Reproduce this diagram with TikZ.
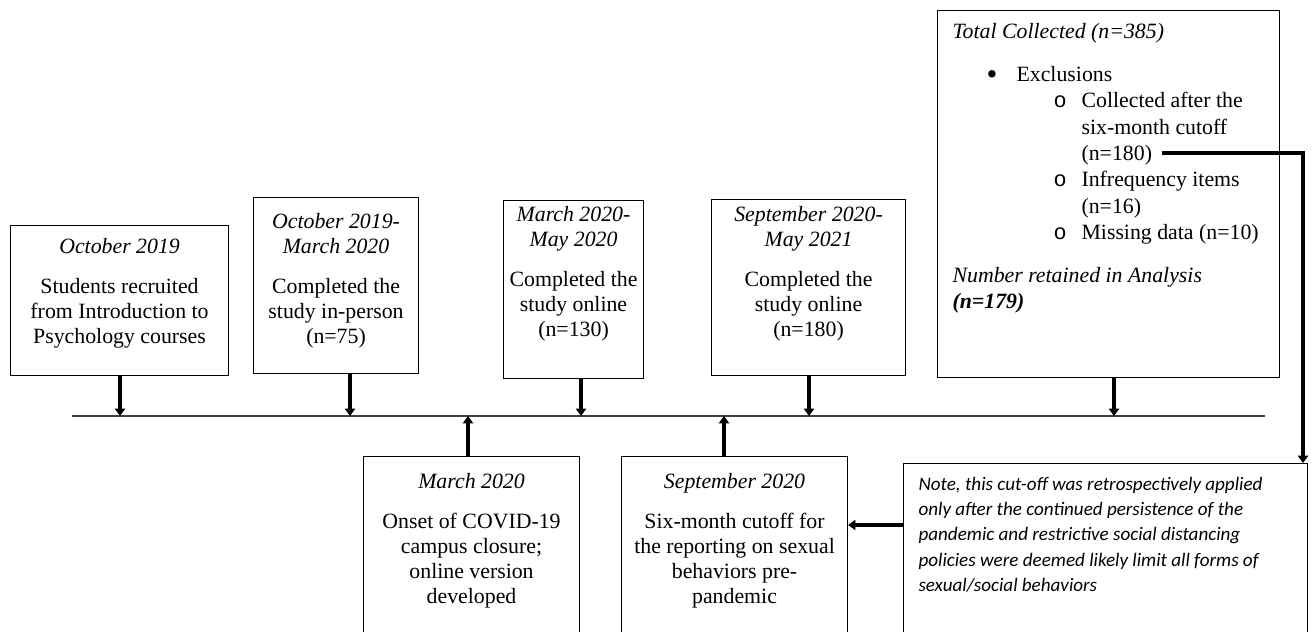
\documentclass[tikz,border=0pt]{standalone}
\usepackage{fontspec}
\setmainfont{Liberation Serif}
\newfontfamily\notefont{Carlito}
\newfontfamily\circfont{Liberation Mono}
\usetikzlibrary{arrows.meta}
\newdimen\pxu
\pxu=0.55pt

\begin{document}
\begin{tikzpicture}[
x=0.55pt,y=-0.55pt,
font=\fontsize{12}{13.8}\selectfont,
box/.style n args={3}{draw,line width=0.6pt,inner sep=0pt,anchor=north west,
  execute at begin node={\begin{minipage}[t][#2\pxu][t]{#1\pxu}\centering\vspace*{#3\pxu}},
  execute at end node={\end{minipage}}},
arrow/.style={-{Triangle[width=5.5pt,length=4pt]},line width=2.6pt}
]
\useasboundingbox (0,0) rectangle (1312,632);
% top row
\node[box={218}{150}{13}] (recr) at (10,225) {\textit{October 2019}\\[8pt]Students recruited\\from Introduction to\\Psychology courses};
\node[box={165}{176}{16}] (inp) at (253,197) {\textit{October 2019-}\\\textit{March 2020}\\[8pt]Completed the\\study in-person\\(n=75)};
\node[box={140}{178}{6}] (onl) at (503,200) {\textit{March 2020-}\\\textit{May 2020}\\[8pt]Completed the\\study online\\(n=130)};
\node[box={194}{176}{7}] (onl2) at (711,199) {\textit{September 2020-}\\\textit{May 2021}\\[8pt]Completed the\\study online\\(n=180)};
\node[box={312}{367}{13},inner xsep=8.25pt] (tot) at (937,10) {\fontsize{12}{14.5}\selectfont\raggedright
\textit{Total Collected (n=385)}\\[9pt]
\hspace*{34\pxu}\makebox[30\pxu][l]{\raisebox{-1.5pt}{\fontsize{17}{14.5}\selectfont\textbullet}}Exclusions\\
\hspace*{101\pxu}\makebox[28\pxu][l]{\circfont o}Collected after the\\
\hspace*{129\pxu}six-month cutoff\\
\hspace*{129\pxu}(n=180)\\
\hspace*{101\pxu}\makebox[28\pxu][l]{\circfont o}Infrequency items\\
\hspace*{129\pxu}(n=16)\\
\hspace*{101\pxu}\makebox[28\pxu][l]{\circfont o}Missing data (n=10)\\[9pt]
\textit{Number retained in Analysis}\\
\textbf{\textit{(n=179)}}\par};
% bottom row
\node[box={216}{200}{17}] (cov) at (363,456) {\textit{March 2020}\\[8pt]Onset of COVID-19\\campus closure;\\online version\\developed};
\node[box={226}{200}{17}] (cut) at (621,456) {\textit{September 2020}\\[8pt]Six-month cutoff for\\the reporting on sexual\\behaviors pre-\\pandemic};
\node[box={374}{200}{14},inner xsep=8.25pt] (note) at (903,463) {\notefont\itshape\fontsize{10.5}{13.8}\selectfont\raggedright
Note, this cut-off was retrospectively applied\\
only after the continued persistence of the\\
pandemic and restrictive social distancing\\
policies were deemed likely limit all forms of\\
sexual/social behaviors\par};
% timeline
\coordinate (tlL) at (72,416);
\coordinate (tlR) at (1265,416);
\draw[line width=0.6pt,black!75] (tlL) -- (tlR);
\coordinate (t1) at (120,416);
\coordinate (t2) at (350,416);
\coordinate (t3) at (581,416);
\coordinate (t4) at (809,416);
\coordinate (t5) at (1114,416);
\coordinate (t6) at (468,416);
\coordinate (t7) at (724,416);
\draw[arrow] (recr.south -| t1) -- (t1);
\draw[arrow] (inp.south -| t2) -- (t2);
\draw[arrow] (onl.south -| t3) -- (t3);
\draw[arrow] (onl2.south -| t4) -- (t4);
\draw[arrow] (tot.south -| t5) -- (t5);
\draw[arrow] (cov.north -| t6) -- (t6);
\draw[arrow] (cut.north -| t7) -- (t7);
% cutoff note
\coordinate (n180) at (1162,153);
\coordinate (turn) at (1303,153);
\draw[arrow] (n180) -- (turn) -- (turn |- note.north);
\coordinate (lk) at (903,525);
\draw[arrow] (lk) -- (lk -| cut.east);
\end{tikzpicture}
\end{document}
